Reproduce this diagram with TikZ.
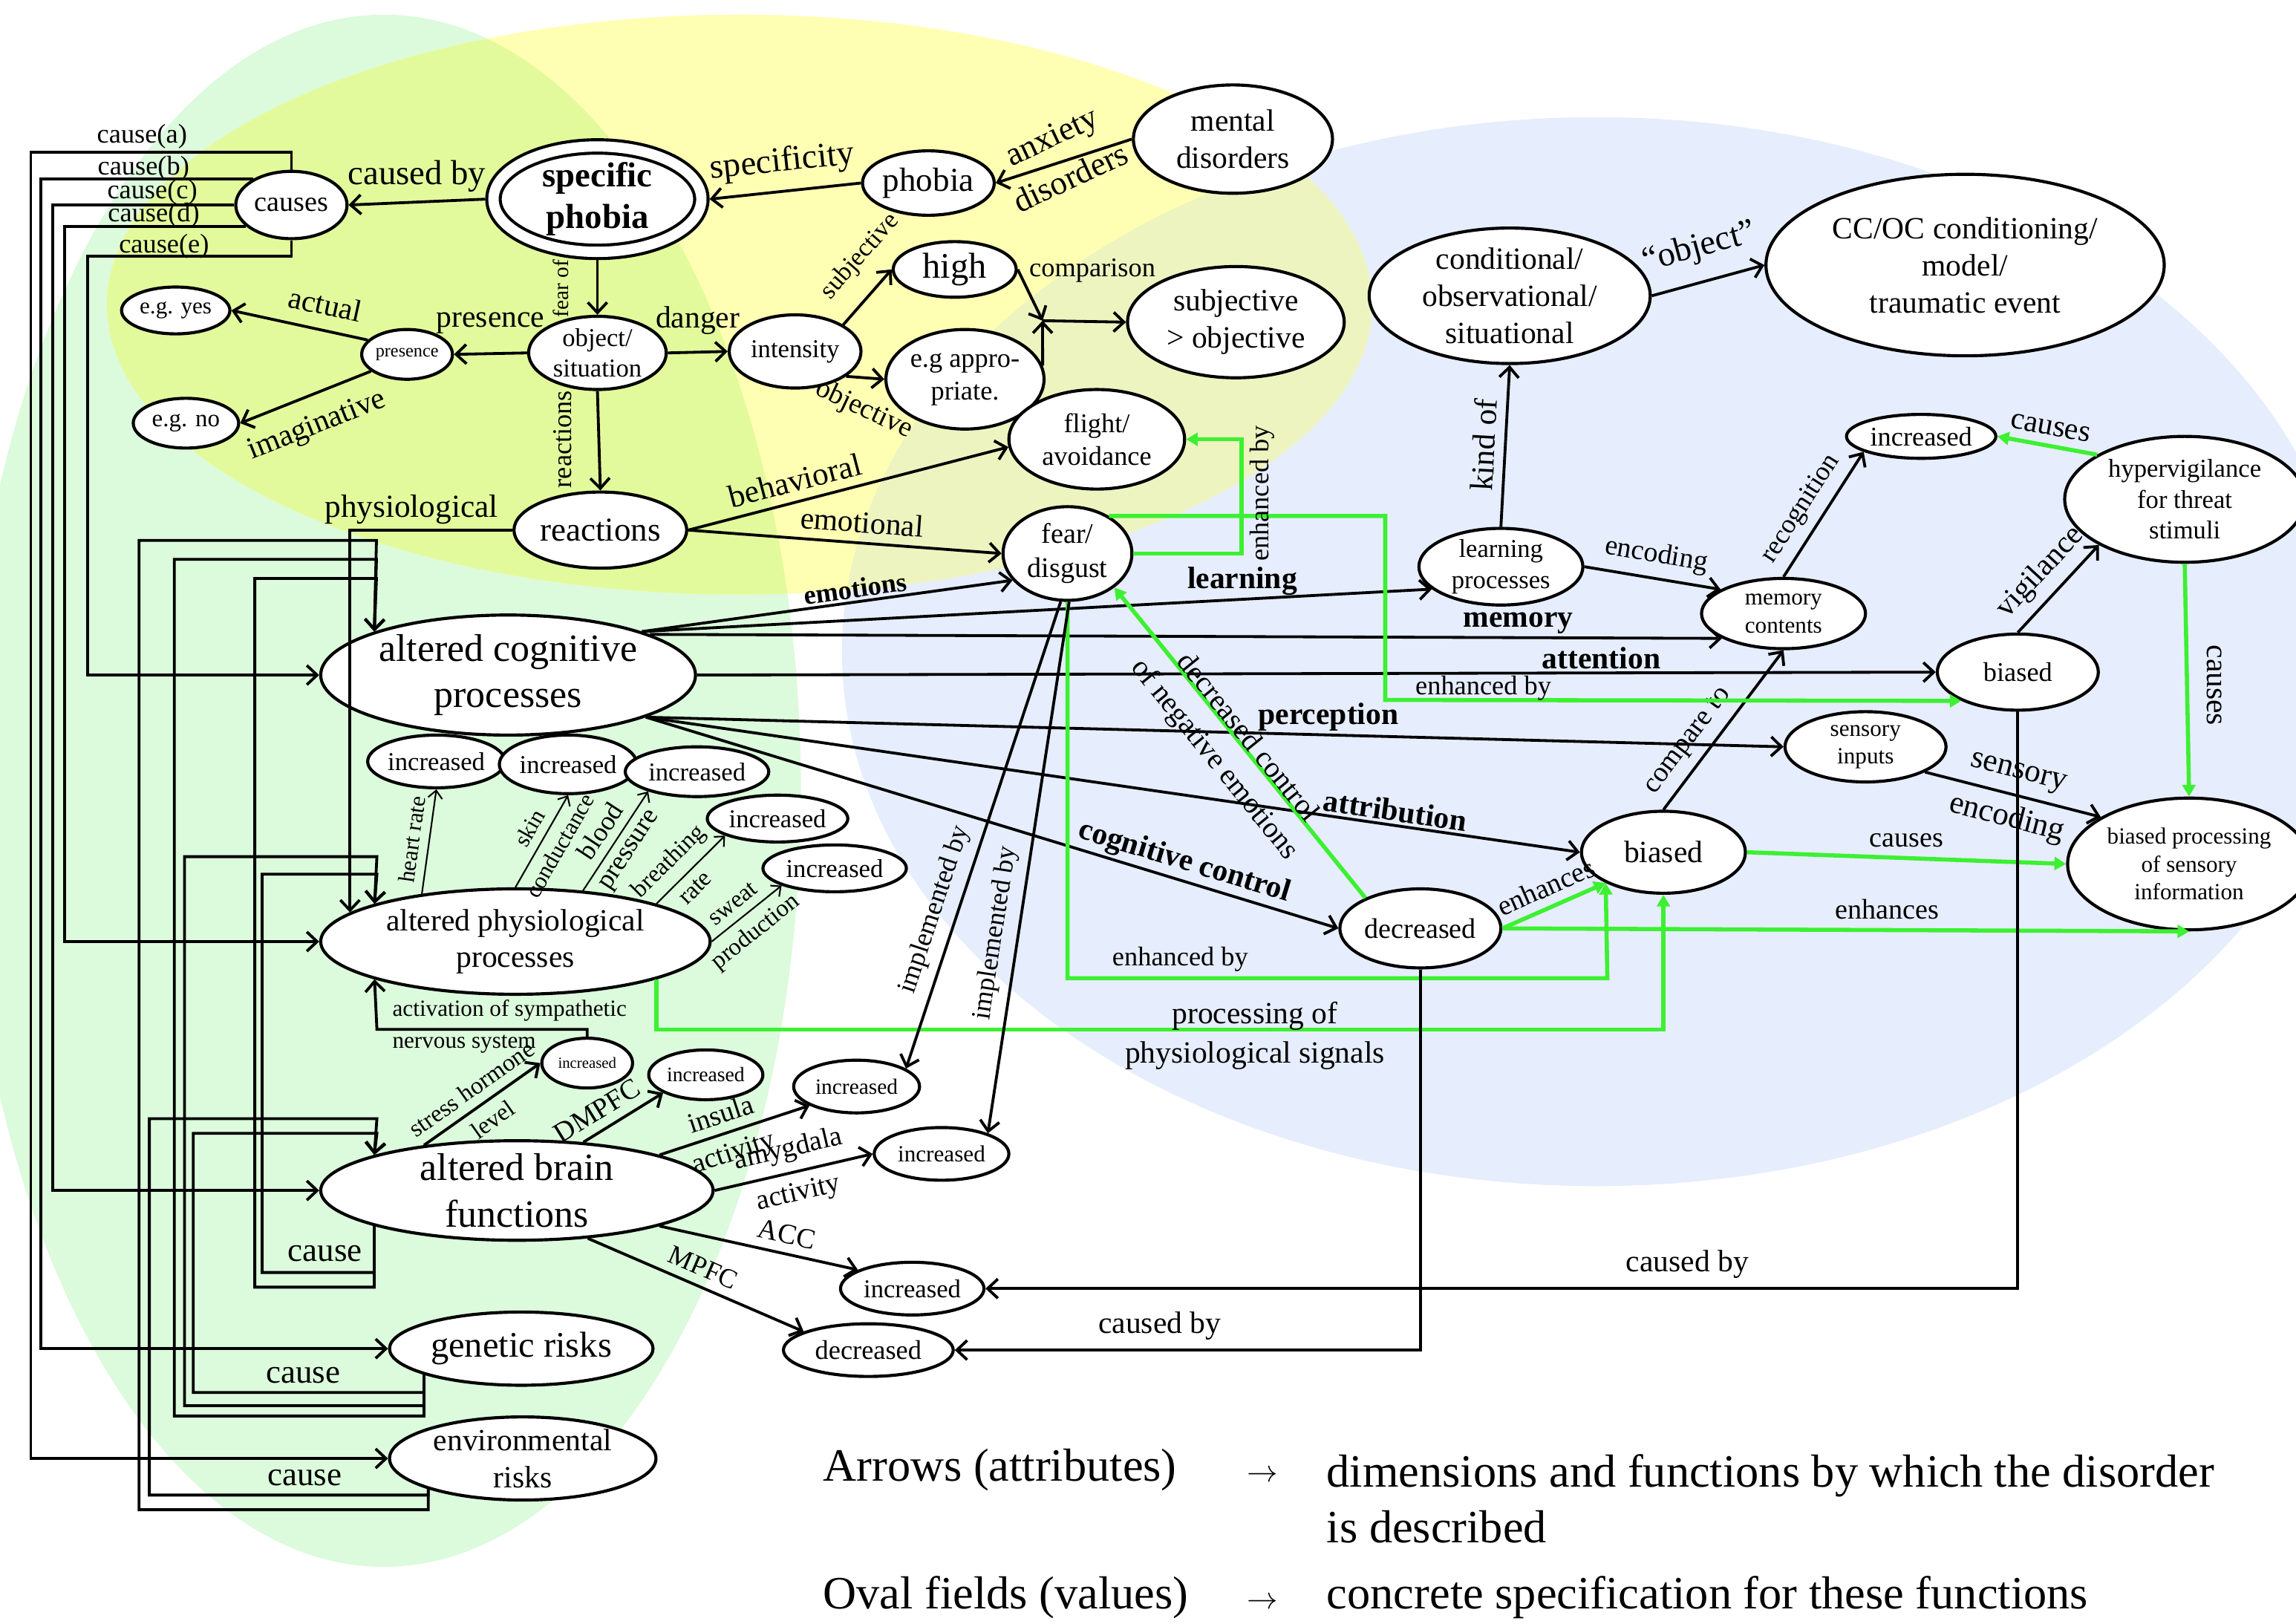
\documentclass[tikz,border=0pt]{standalone}
\usepackage{fontspec}
\setmainfont{Liberation Serif}
\usetikzlibrary{shapes.geometric,arrows.meta}

\definecolor{bgreen}{HTML}{DCFADC}
\definecolor{byellow}{HTML}{FFFFB4}
\definecolor{bgy}{HTML}{E3FA9C}
\definecolor{bblue}{HTML}{E6EDFC}
\definecolor{bby}{HTML}{EEF4C0}
\definecolor{lgreen}{RGB}{60,240,50}

\newcommand\fsz[1]{\fontsize{#1}{\fpeval{1.2*#1}}\selectfont}

\begin{document}
\begin{tikzpicture}[x=0.02cm,y=-0.02cm,
	fz/.style={font=\fsz{#1}},
	oval/.style={draw, ellipse, line width=1.2pt, fill=white, inner sep=0pt, align=center},
	arr/.style={line width=1.1pt, -{Straight Barb[length=4pt,width=7.5pt]}},
	tarr/.style={line width=0.6pt, -{Straight Barb[length=3pt,width=5.5pt]}},
	garr/.style={draw=lgreen, line width=1.6pt, -{Triangle[length=4.5pt,width=5pt]}},
	bfl/.style={inner sep=1pt, font=\fsz{#1}\bfseries},
	lab/.style={inner sep=1pt, align=center}]

	\useasboundingbox (0,0) rectangle (1568,1109);

	\fill[bgreen] (262,540) ellipse (285 and 530);
	\fill[bblue] (1090,445) ellipse (515 and 365);
	\fill[byellow] (505,208) ellipse (432 and 198);
	\begin{scope}
		\clip (262,540) ellipse (285 and 530);
		\fill[bgy] (505,208) ellipse (432 and 198);
	\end{scope}
	\begin{scope}
		\clip (1090,445) ellipse (515 and 365);
		\fill[bby] (505,208) ellipse (432 and 198);
	\end{scope}

	\node[oval, fz=11, minimum width=1.52cm, minimum height=0.92cm] (causes) at (199,140) {causes};
	\node[oval, font=\fsz{13.5}\bfseries, double, double distance=4pt, outer sep=3.2pt, minimum width=2.84cm, minimum height=1.44cm] (sp) at (408,136) {specific\\phobia};
	\node[oval, fz=13, minimum width=1.8cm, minimum height=0.88cm] (phobia) at (634,125) {phobia};
	\node[oval, fz=12, minimum width=2.72cm, minimum height=1.48cm] (mental) at (842,95) {mental\\disorders};
	\node[oval, fz=10, minimum width=1.88cm, minimum height=1.0cm] (objsit) at (408,241) {object/\\situation};
	\node[oval, fz=7, minimum width=1.24cm, minimum height=0.68cm] (pres) at (278,242) {presence};
	\node[oval, fz=9, minimum width=1.48cm, minimum height=0.64cm] (yes) at (120,212) {e.g. yes};
	\node[oval, fz=9.5, minimum width=1.44cm, minimum height=0.68cm] (no) at (127,289) {e.g. no};
	\node[oval, fz=10, minimum width=1.8cm, minimum height=1.0cm] (intens) at (543,240) {intensity};
	\node[oval, fz=14, minimum width=1.68cm, minimum height=0.76cm] (high) at (652,184) {high};
	\node[oval, fz=10.5, minimum width=2.16cm, minimum height=1.36cm] (approp) at (659,259) {e.g appro-\\priate.};
	\node[oval, fz=12, minimum width=2.96cm, minimum height=1.52cm] (subj) at (844,220) {subjective\\> objective};
	\node[oval, fz=12, minimum width=3.84cm, minimum height=1.84cm] (cond) at (1031,202) {conditional/\\observational/\\situational};
	\node[oval, fz=12, minimum width=5.44cm, minimum height=2.48cm] (ccoc) at (1342,181) {CC/OC conditioning/\\model/\\traumatic event};
	\node[oval, fz=10.5, minimum width=2.4cm, minimum height=1.36cm] (flight) at (749,300) {flight/\\avoidance};
	\node[oval, fz=11, minimum width=1.76cm, minimum height=1.28cm] (fear) at (729,378) {fear/\\disgust};
	\node[oval, fz=13, minimum width=2.36cm, minimum height=1.04cm] (react) at (410,362) {reactions};
	\coordinate (jn) at (712,219);

	\node[oval, fz=15, minimum width=5.12cm, minimum height=1.64cm] (cog) at (347,461) {altered cognitive\\processes};
	\node[oval, fz=12, minimum width=5.32cm, minimum height=1.44cm] (phys) at (352,643) {altered physiological\\processes};
	\node[oval, fz=10, minimum width=1.84cm, minimum height=0.72cm] (inc1) at (298,520) {increased};
	\node[oval, fz=10, minimum width=1.88cm, minimum height=0.8cm] (inc2) at (388,522) {increased};
	\node[oval, fz=10, minimum width=1.96cm, minimum height=0.68cm] (inc3) at (476,527) {increased};
	\node[oval, fz=10, minimum width=1.92cm, minimum height=0.64cm] (inc4) at (531,559) {increased};
	\node[oval, fz=10, minimum width=1.96cm, minimum height=0.64cm] (inc5) at (570,593) {increased};
	\node[oval, fz=15, inner ysep=-2.5pt, minimum width=5.36cm, minimum height=1.36cm] (brain) at (353,813) {altered brain\\functions};
	\node[oval, fz=6, minimum width=1.24cm, minimum height=0.68cm] (incS) at (401,726) {increased};
	\node[oval, fz=8, minimum width=1.56cm, minimum height=0.68cm] (incD) at (482,734) {increased};
	\node[oval, fz=8.5, minimum width=1.72cm, minimum height=0.72cm] (incI) at (585,742) {increased};
	\node[oval, fz=9, minimum width=1.84cm, minimum height=0.72cm] (incA) at (643,788) {increased};
	\node[oval, fz=10, minimum width=1.96cm, minimum height=0.72cm] (incC) at (623,880) {increased};
	\node[oval, fz=10.5, minimum width=2.32cm, minimum height=0.72cm] (decM) at (593,922) {decreased};
	\node[oval, fz=14, minimum width=3.6cm, minimum height=1.0cm] (gen) at (356,921) {genetic risks};
	\node[oval, fz=12, minimum width=3.64cm, minimum height=1.12cm] (env) at (357,996) {environmental\\risks};

	\node[oval, fz=10, minimum width=2.24cm, minimum height=0.96cm] (learn) at (1025,387) {learning\\processes};
	\node[oval, fz=9, minimum width=2.24cm, minimum height=0.96cm] (mem) at (1218,419) {memory\\contents};
	\node[oval, fz=10.5, minimum width=2.04cm, minimum height=0.6cm] (incT) at (1312,298) {increased};
	\node[oval, fz=10, minimum width=3.28cm, minimum height=1.72cm] (hyper) at (1492,341) {hypervigilance\\for threat\\stimuli};
	\node[oval, fz=10.5, minimum width=2.2cm, minimum height=1.04cm] (biasA) at (1378,459) {biased};
	\node[oval, fz=9, minimum width=2.2cm, minimum height=0.96cm] (sens) at (1274,510) {sensory\\inputs};
	\node[oval, fz=12, minimum width=2.24cm, minimum height=1.12cm] (biasB) at (1136,582) {biased};
	\node[oval, fz=9, minimum width=3.32cm, minimum height=1.8cm] (bproc) at (1495,590) {biased processing\\of sensory\\information};
	\node[oval, fz=11, minimum width=2.2cm, minimum height=1.08cm] (decC) at (970,634) {decreased};

	\draw[arr] (sp.west) -- (causes.east) node[midway, above=0pt, fz=13.5] {caused by};
	\draw[arr] (phobia.west) -- (sp.east) node[midway, above=1pt, sloped, fz=13.5] {specificity};
	\draw[arr] (mental.west) -- (phobia.east);
	\draw[arr] (sp.south) -- (objsit.north);
	\draw[arr] (objsit.west) -- (pres.east) node[midway, above=4pt, fz=12] {presence};
	\draw[arr] (pres.160) -- (yes.east) node[pos=.35, above=2pt, sloped, fz=12] {actual};
	\draw[arr] (pres.205) -- (no.east) node[pos=.5, below=3pt, sloped, fz=12] {imaginative};
	\draw[arr] (objsit.east) -- (intens.west) node[midway, above=3pt, fz=12] {danger};
	\draw[arr] (intens.29) -- (high.west) node[pos=.85, above=4pt, sloped, fz=10] {subjective};
	\draw[arr] (intens.-26) -- (approp.west);
	\draw[arr] (high.east) -- (jn);
	\draw[arr] (approp.10) -- (jn);
	\draw[arr] (jn) -- (subj.west);
	\draw[arr] (objsit.south) -- (react.north);
	\draw[arr] (react.east) -- (flight.185) node[pos=.35, above, sloped, fz=12.5] {behavioral};
	\draw[arr] (react.east) -- (fear.west) node[pos=.55, above, sloped, fz=12] {emotional};
	\draw[arr] (react.west) -| (phys.170);
	\draw[garr] (fear.east) -- (848,378) |- (flight.east);

	\draw[arr] (causes.north) |- (21,104) |- (env.west);
	\draw[arr] (causes.146) -| (28,921) -- (gen.west);
	\draw[arr] (causes.west) -| (36,813) -- (brain.west);
	\draw[arr] (causes.205) -| (44,643) -- (phys.west);
	\draw[arr] (causes.south) |- (60,175) |- (cog.west);

	\draw[arr] (brain.194) |- (179,869) |- (257.4,597) -- (phys.165);
	\draw[arr] (brain.194) |- (174,879) |- (257.1,395) -- (cog.162);
	\draw[arr] (gen.195) |- (132,951) |- (257.4,774) -- (brain.166);
	\draw[arr] (gen.195) |- (126,960) |- (257.4,585) -- (phys.165);
	\draw[arr] (gen.195) |- (119,967) |- (257.1,382) -- (cog.162);
	\draw[arr] (env.198) |- (102,1021) |- (257.4,764) -- (brain.166);
	\draw[arr] (env.198) |- (95,1031) |- (257.1,369) -- (cog.162);
	\draw[arr] (incS.north) |- (257.4,703) -- (phys.195);

	\draw[tarr] (phys.153) -- (inc1.south) node[midway, above, sloped, fz=9] {heart rate};
	\draw[tarr] (phys.north) -- (inc2.south) node[pos=.55, above, sloped, fz=9] {skin} node[pos=.55, below, sloped, fz=9] {conductance};
	\draw[tarr] (phys.37) -- (inc3.202) node[midway, above, sloped, fz=10.5] {blood} node[midway, below, sloped, fz=10.5] {pressure};
	\draw[tarr] (phys.15) -- (inc4.198) node[pos=.4, above, sloped, fz=9.5] {breathing} node[pos=.4, below, sloped, fz=9.5] {rate};
	\draw[tarr] (phys.east) -- (inc5.198) node[pos=.45, above, sloped, fz=9.5] {sweat} node[pos=.45, below, sloped, fz=9.5] {production};

	\draw[arr] (brain.154) -- (incS.west) node[midway, above, sloped, fz=9.5] {stress hormone} node[midway, below, sloped, fz=9.5] {level};
	\draw[arr] (brain.36) -- (incD.203) node[pos=.3, above, sloped, fz=11] {DMPFC};
	\draw[arr] (brain.14) -- (incI.202) node[pos=.45, above, sloped, fz=11] {insula} node[pos=.45, below, sloped, fz=11] {activity};
	\draw[arr] (brain.east) -- (incA.west) node[midway, above, sloped, fz=11] {amygdala} node[midway, below, sloped, fz=11] {activity};
	\draw[arr] (brain.-14) -- (incC.161) node[pos=.62, above, sloped, fz=11] {ACC};
	\draw[arr] (brain.-34) -- (decM.164) node[midway, above, sloped, fz=10.5] {MPFC};

	\draw[arr] (cog.18) -- (fear.206) node[pos=.58, above, sloped, bfl=10.5] {emotions};
	\draw[arr] (cog.18) -- (learn.198) node[pos=.76, above, bfl=12] {learning};
	\draw[arr] (cog.16) -- (mem.202) node[pos=.81, above, bfl=12] {memory};
	\draw[arr] (cog.east) -- (biasA.west) node[pos=.73, above, bfl=12] {attention};
	\draw[arr] (cog.-17) -- (sens.west) node[pos=.6, above, bfl=12] {perception};
	\draw[arr] (cog.-17) -- (biasB.west) node[pos=.8, above, sloped, bfl=12] {attribution};
	\draw[arr] (cog.-17) -- (decC.west) node[pos=.77, above, sloped, bfl=12] {cognitive control};

	\draw[arr] (learn.north) -- (cond.south) node[midway, above, sloped, fz=12.5] {kind of};
	\draw[arr] (cond.east) -- (ccoc.west) node[midway, above=3pt, sloped, fz=13.5] {“object”};
	\draw[arr] (learn.east) -- (mem.159) node[midway, above, sloped, fz=11] {encoding};
	\draw[arr] (mem.north) -- (incT.195) node[pos=.45, above, sloped, fz=10.5] {recognition};
	\draw[arr] (biasB.north) -- (mem.south) node[pos=.35, above, sloped, fz=11] {compare to};
	\draw[arr] (biasA.north) -- (hyper.208) node[midway, above, sloped, fz=12] {vigilance};
	\draw[arr] (sens.-23) -- (bproc.152) node[midway, above, sloped, fz=12.5] {sensory} node[midway, below, sloped, fz=12.5] {encoding};
	\draw[garr] (hyper.153) -- (incT.east) node[midway, above, sloped, fz=12] {causes};
	\draw[garr] (hyper.south) -- (bproc.north);
	\draw[garr] (biasB.east) -- (bproc.west) node[midway, above, fz=11] {causes};
	\draw[garr] (decC.east) -- (biasB.208) node[midway, above, sloped, fz=11] {enhances};
	\draw[garr] (decC.east) -- (bproc.south) node[pos=.56, above, fz=11] {enhances};
	\draw[garr] (decC.151) -- (fear.-36);
	\draw[garr] (fear.south) |- (1097.7,668) -- (biasB.208);
	\draw[garr] (fear.42) -| (946,478) -- (biasA.207);
	\draw[garr] (phys.-15) |- (1136,703) -- (biasB.south);

	\draw[arr] (fear.262) -- (incI.20) node[pos=.675, above, sloped, fz=10.5] {implemented by};
	\draw[arr] (fear.272) -- (incA.24) node[pos=.63, above, sloped, fz=10.5] {implemented by};
	\draw[arr] (decC.south) |- (decM.east) node[pos=.78, above, fz=12] {caused by};
	\draw[arr] (biasA.south) |- (incC.east) node[pos=.66, above, fz=12] {caused by};

	\node[lab, fz=13, rotate=25] (lanx) at (719,95) {anxiety};
	\node[lab, fz=13, rotate=25] (ldis) at (731,121) {disorders};
	\node[lab, fz=8.5, rotate=90] (lfear) at (383,197) {fear of};
	\node[lab, fz=11, rotate=-25] (lobj) at (590,280) {objective};
	\node[lab, fz=10.5] (lcomp) at (746,185) {comparison};
	\node[lab, fz=10.5, rotate=90] (lreac) at (384,300) {reactions};
	\node[lab, fz=12.5] (lphys) at (281,348) {physiological};
	\node[lab, fz=10.5, rotate=90] (lenh1) at (862,337) {enhanced by};
	\node[lab, fz=10.5] (lca) at (97,93) {cause(a)};
	\node[lab, fz=10.5] (lcb) at (98,115) {cause(b)};
	\node[lab, fz=10.5] (lcc) at (104,131) {cause(c)};
	\node[lab, fz=10.5] (lcd) at (105,147) {cause(d)};
	\node[lab, fz=10.5] (lce) at (112,168) {cause(e)};
	\node[lab, fz=13] (lcs1) at (222,856) {cause};
	\node[lab, fz=13] (lcs2) at (207,939) {cause};
	\node[lab, fz=13] (lcs3) at (208,1009) {cause};
	\node[lab, fz=9] (lact1) at (348,690) {activation of sympathetic};
	\node[lab, fz=9] (lact2) at (317,713) {nervous system};
	\node[lab, fz=11.5, rotate=-51] (ldec1) at (853,503) {decreased control};
	\node[lab, fz=11.5, rotate=-51] (ldec2) at (829,519) {of negative emotions};
	\node[lab, fz=10.5] (lenh2) at (1013,470) {enhanced by};
	\node[lab, fz=10.5] (lenh3) at (806,655) {enhanced by};
	\node[lab, fz=12] (lproc1) at (857,694) {processing of};
	\node[lab, fz=12] (lproc2) at (857,721) {physiological signals};
	\node[lab, fz=12, rotate=-90] (lcs4) at (1512,468) {causes};

	\node[lab, fz=18, anchor=west] (lg1) at (560,1004) {Arrows (attributes)};
	\node[lab, fz=12] (lga1) at (862,1008) {$\rightarrow$};
	\node[lab, fz=18, anchor=west, align=left] (lg2) at (904,1023.5) {dimensions and functions by which the disorder\\is described};
	\node[lab, fz=18, anchor=west] (lg3) at (560,1091) {Oval fields (values)};
	\node[lab, fz=12] (lga2) at (862,1095) {$\rightarrow$};
	\node[lab, fz=18, anchor=west] (lg4) at (904,1091) {concrete specification for these functions};
\end{tikzpicture}
\end{document}
